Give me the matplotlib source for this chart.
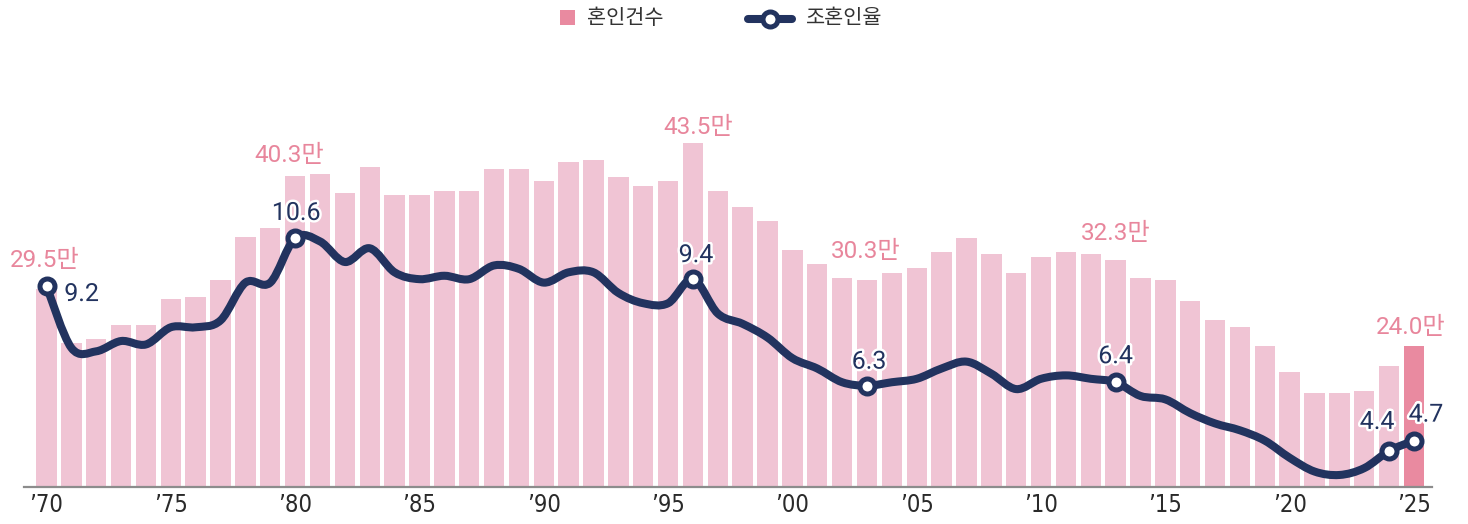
import matplotlib
matplotlib.use("Agg")
import matplotlib.pyplot as plt
import matplotlib.patheffects as pe
from matplotlib.path import Path
from matplotlib.patches import PathPatch, Rectangle
from matplotlib.lines import Line2D
from matplotlib import font_manager as fm

plt.rcParams['font.family'] = ['Noto Sans CJK KR', 'DejaVu Sans']

# ---------------- data ----------------
years = list(range(1970, 2026))
# 혼인건수 (만 건)
marriages = [29.5, 24.3, 24.7, 26.0, 26.0, 28.5, 28.7, 30.3, 34.5, 35.3,
             40.3, 40.5, 38.7, 41.2, 38.5, 38.5, 38.9, 38.9, 41.0, 41.0,
             39.9, 41.7, 41.9, 40.2, 39.4, 39.9, 43.5, 38.9, 37.4, 36.0,
             33.2, 31.9, 30.5, 30.3, 31.0, 31.5, 33.0, 34.4, 32.8, 31.0,
             32.6, 33.0, 32.8, 32.3, 30.5, 30.3, 28.3, 26.5, 25.8, 24.0,
             21.5, 19.5, 19.5, 19.7, 22.1, 24.0]
# 조혼인율 (인구 천 명당)
rates = [9.2, 7.4, 7.3, 7.6, 7.5, 8.0, 8.0, 8.2, 9.3, 9.3,
         10.6, 10.5, 9.9, 10.3, 9.6, 9.4, 9.5, 9.4, 9.8, 9.7,
         9.3, 9.6, 9.6, 9.0, 8.7, 8.7, 9.4, 8.4, 8.1, 7.7,
         7.1, 6.8, 6.4, 6.3, 6.4, 6.5, 6.8, 7.0, 6.65, 6.2,
         6.5, 6.6, 6.5, 6.4, 6.0, 5.9, 5.5, 5.2, 5.0, 4.7,
         4.2, 3.8, 3.7, 3.9, 4.4, 4.7]
tick_years = [1970, 1975, 1980, 1985, 1990, 1995, 2000, 2005, 2010, 2015, 2020, 2025]
tick_labels = ["\u201970", "\u201975", "\u201980", "\u201985", "\u201990", "\u201995",
               "\u201900", "\u201905", "\u201910", "\u201915", "\u201920", "\u201925"]
bar_label_years = [1970, 1980, 1996, 2003, 2013, 2025]
bar_label_texts = ["29.5만", "40.3만", "43.5만", "30.3만", "32.3만", "24.0만"]
rate_label_years = [1970, 1980, 1996, 2003, 2013, 2024, 2025]
rate_label_texts = ["9.2", "10.6", "9.4", "6.3", "6.4", "4.4", "4.7"]
legend_labels = ["혼인건수", "조혼인율"]

# ---------------- style ----------------
BAR_C = "#F0C4D4"
BAR_HI = "#E98AA0"
PINK_TXT = "#E8869C"
NAVY = "#22335F"
W, H = 1468, 524
fig = plt.figure(figsize=(W / 100, H / 100), dpi=100)

names = {f.name for f in fm.fontManager.ttflist}
cond = [f for f in fm.fontManager.ttflist
        if f.name == 'DejaVu Sans' and 'Condensed' in f.fname
        and 'Bold' not in f.fname and 'Oblique' not in f.fname]

# axes in pixel geometry
left_px, right_px, base_px, top_px = 24, 1432, 487, 100
ax = fig.add_axes([left_px / W, (H - base_px) / H, (right_px - left_px) / W, (base_px - top_px) / H])
ax2 = ax.twinx()

ppy = 24.86  # pixels per year
ax.set_xlim(1970 - (46.5 - left_px) / ppy, 2025 + (right_px - 1414) / ppy)
ax.set_ylim(10.46, 10.46 + (base_px - top_px) / 10.41)
ax2.set_ylim(3.35, 3.35 + (base_px - top_px) / 34.35)

colors = [BAR_C] * (len(years) - 1) + [BAR_HI]
ax.bar(years, marriages, width=0.82, color=colors, zorder=1)

for a in (ax, ax2):
    for s in ("top", "right", "left"):
        a.spines[s].set_visible(False)
    a.set_yticks([])
ax2.spines["bottom"].set_visible(False)
ax.spines["bottom"].set_color("#8c8c8c")
ax.spines["bottom"].set_linewidth(1.6)
ax.set_xticks(tick_years)
if 'Liberation Sans Narrow' in names:
    ax.set_xticklabels(tick_labels, family=['Liberation Sans Narrow'], fontsize=18, color="#2a2a2a")
elif cond:
    ax.set_xticklabels(tick_labels, fontproperties=fm.FontProperties(fname=cond[0].fname, size=17),
                       color="#2a2a2a")
else:
    ax.set_xticklabels(tick_labels, family=['DejaVu Sans'], fontsize=16, color="#2a2a2a")
ax.tick_params(axis="x", length=0, pad=4)
ax2.tick_params(axis="x", length=0)

# smooth line (Catmull-Rom as cubic Bezier segments)
pts = list(zip(years, rates))
verts = [pts[0]]
codes = [Path.MOVETO]
n = len(pts)
for i in range(n - 1):
    p0 = pts[i - 1] if i > 0 else pts[i]
    p1 = pts[i]
    p2 = pts[i + 1]
    p3 = pts[i + 2] if i + 2 < n else pts[i + 1]
    c1 = (p1[0] + (p2[0] - p0[0]) / 6, p1[1] + (p2[1] - p0[1]) / 6)
    c2 = (p2[0] - (p3[0] - p1[0]) / 6, p2[1] - (p3[1] - p1[1]) / 6)
    verts += [c1, c2, p2]
    codes += [Path.CURVE4] * 3
ax2.add_patch(PathPatch(Path(verts, codes), fill=False, edgecolor=NAVY, lw=5.8,
                        capstyle="round", joinstyle="round", zorder=3))

mk_x = rate_label_years
mk_y = [rates[years.index(y)] for y in rate_label_years]
ax2.plot(mk_x, mk_y, linestyle="none", marker="o", ms=10.8, mfc="white",
         mec=NAVY, mew=3.6, zorder=4)

# labels
pxpt = 0.72
lab_family = ['Roboto', 'Noto Sans CJK KR']
bar_offsets = [(-1.5, 28), (-6, 21), (5, 15.5), (-1, 29), (0, 26), (-3, 19)]
for y, t, (dx, dy) in zip(bar_label_years, bar_label_texts, bar_offsets):
    ax.annotate(t, (y, marriages[years.index(y)]), xytext=(dx * pxpt, dy * pxpt),
                textcoords="offset points", ha="center", va="center",
                fontsize=17.5, color=PINK_TXT, zorder=5, family=lab_family)

rate_offsets = [(35, -8), (1, 25), (3, 24), (2, 24), (0, 26), (-12, 29), (12, 26)]
for y, t, (dx, dy) in zip(rate_label_years, rate_label_texts, rate_offsets):
    ax2.annotate(t, (y, rates[years.index(y)]), xytext=(dx * pxpt, dy * pxpt),
                 textcoords="offset points", ha="center", va="center",
                 fontsize=18, color=NAVY, zorder=6, family=lab_family,
                 path_effects=[pe.withStroke(linewidth=3.5, foreground="white")])

# legend (manual, figure pixel coords)
def fx(x):
    return x / W

def fy(y):
    return 1 - y / H

fig.add_artist(Rectangle((fx(560), fy(25)), 15 / W, 15 / H, transform=fig.transFigure,
                         facecolor=BAR_HI, edgecolor="none"))
fig.text(fx(587), fy(18), legend_labels[0], ha="left", va="center", fontsize=15, color="#333333")
fig.add_artist(Line2D([fx(748), fx(792)], [fy(19), fy(19)], transform=fig.transFigure,
                      color=NAVY, lw=5.8, solid_capstyle="round"))
fig.add_artist(Line2D([fx(770)], [fy(19)], transform=fig.transFigure, marker="o",
                      ms=10.8, mfc="white", mec=NAVY, mew=3.6, linestyle="none"))
fig.text(fx(806), fy(18), legend_labels[1], ha="left", va="center", fontsize=15, color="#333333")

fig.savefig("out.png", dpi=100)
